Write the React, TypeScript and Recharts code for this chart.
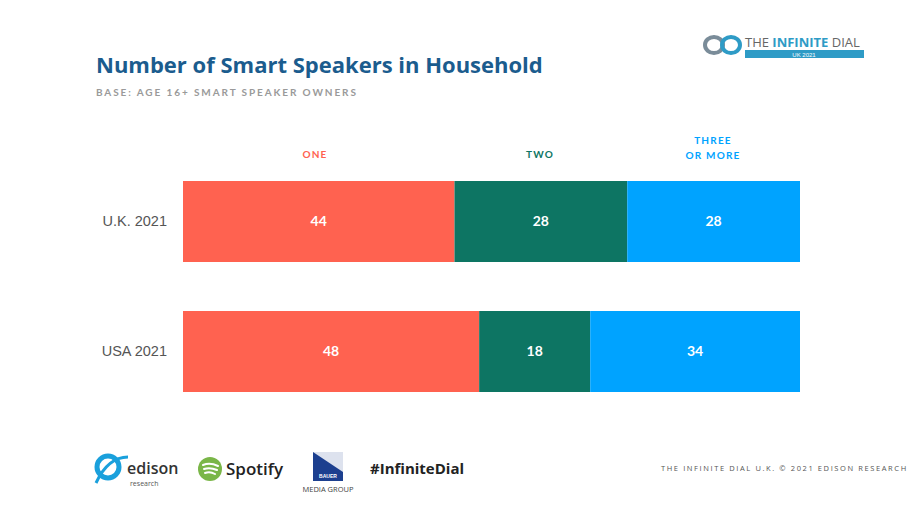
import React from 'react';
import { BarChart, Bar, XAxis, YAxis, LabelList } from 'recharts';

const categories = ['U.K. 2021', 'USA 2021'];
const oneValues = [44, 48];
const twoValues = [28, 18];
const threeValues = [28, 34];
const seriesLabels = ['ONE', 'TWO', 'THREE\nOR MORE'];

const data = categories.map((c, i) => ({
  name: c,
  one: oneValues[i],
  two: twoValues[i],
  three: threeValues[i],
}));

const COLORS = ['#FF6250', '#0D7563', '#00A3FF'];

const FONT = 'Lato, "Open Sans", Roboto, sans-serif';

export default function App() {
  return (
    <div style={{ position: 'absolute', left: 0, top: 0, width: 920, height: 518, background: '#fff', overflow: 'hidden', fontFamily: FONT }}>
      <div style={{ position: 'absolute', left: 96, top: 49, fontSize: 22, fontWeight: 700, color: '#1B5C8E', fontFamily: '"Open Sans", sans-serif', letterSpacing: 0 }}>
        Number of Smart Speakers in Household
      </div>
      <div style={{ position: 'absolute', left: 96, top: 86, fontSize: 10, fontWeight: 700, color: '#9A9A9A', letterSpacing: 1.9 }}>
        BASE: AGE 16+ SMART SPEAKER OWNERS
      </div>

      {/* top right logo */}
      <svg style={{ position: 'absolute', left: 700, top: 30 }} width={170} height={32}>
        <g fill="none" strokeWidth={4}>
          <ellipse cx={14} cy={15} rx={9} ry={8} stroke="#7A8C99" />
          <ellipse cx={31} cy={15} rx={9} ry={8} stroke="#2E9BC6" />
        </g>
        <text x={45} y={17} fontSize={13} fill="#666" fontFamily='"Open Sans", sans-serif'>THE <tspan fontWeight={700} fill="#2E9BC6">INFINITE</tspan> DIAL</text>
        <rect x={45} y={20} width={119} height={8} fill="#2E9BC6" />
        <text x={104} y={27} fontSize={6} fill="#fff" textAnchor="middle" fontFamily="sans-serif">UK 2021</text>
      </svg>

      {/* column headers */}
      <div style={{ position: 'absolute', left: 265, width: 100, top: 148, textAlign: 'center', fontSize: 10, fontWeight: 700, color: COLORS[0], letterSpacing: 1.2 }}>{seriesLabels[0]}</div>
      <div style={{ position: 'absolute', left: 490, width: 100, top: 148, textAlign: 'center', fontSize: 10, fontWeight: 700, color: COLORS[1], letterSpacing: 1.2 }}>{seriesLabels[1]}</div>
      <div style={{ position: 'absolute', left: 663, width: 100, top: 133, textAlign: 'center', fontSize: 10, fontWeight: 700, color: COLORS[2], letterSpacing: 1.2, lineHeight: '15px', whiteSpace: 'pre' }}>{seriesLabels[2]}</div>

      <div style={{ position: 'absolute', left: 0, top: 0 }}>
        <BarChart
          width={920}
          height={518}
          data={data}
          layout="vertical"
          margin={{ top: 156, right: 120, bottom: 102, left: 13 }}
          barSize={81}
        >
          <XAxis type="number" domain={[0, 100]} hide />
          <YAxis
            type="category"
            dataKey="name"
            width={170}
            axisLine={false}
            tickLine={false}
            tickMargin={10}
            tick={{ fill: '#555', fontSize: 14.5, fontFamily: '"Liberation Sans", Arial, sans-serif' }}
          />
          <Bar dataKey="one" stackId="a" fill={COLORS[0]} isAnimationActive={false}>
            <LabelList dataKey="one" position="center" fill="#fff" fontSize={14} fontWeight={700} fontFamily={FONT} />
          </Bar>
          <Bar dataKey="two" stackId="a" fill={COLORS[1]} isAnimationActive={false}>
            <LabelList dataKey="two" position="center" fill="#fff" fontSize={14} fontWeight={700} fontFamily={FONT} />
          </Bar>
          <Bar dataKey="three" stackId="a" fill={COLORS[2]} isAnimationActive={false}>
            <LabelList dataKey="three" position="center" fill="#fff" fontSize={14} fontWeight={700} fontFamily={FONT} />
          </Bar>
        </BarChart>
      </div>

      {/* footer logos */}
      <svg style={{ position: 'absolute', left: 90, top: 445 }} width={400} height={55}>
        {/* edison */}
        <circle cx={18} cy={22} r={11} fill="none" stroke="#1AA0DC" strokeWidth={5} />
        <path d="M6 38 Q 18 12 38 12" fill="none" stroke="#1AA0DC" strokeWidth={3} />
        <text x={37} y={29} fontSize={16} fill="#333" fontFamily='"Open Sans", sans-serif' fontWeight={600}>edison</text>
        <text x={40} y={41} fontSize={7} fill="#555" fontFamily='"Open Sans", sans-serif'>research</text>
        {/* spotify */}
        <circle cx={120} cy={24} r={12} fill="#7AB648" />
        <path d="M113 20 Q120 17 128 21 M114 24 Q120 22 127 25 M115 28 Q120 26 125 29" stroke="#fff" strokeWidth={2} fill="none" strokeLinecap="round" />
        <text x={136} y={30} fontSize={17} fill="#222" fontFamily='"Open Sans", sans-serif' fontWeight={600}>Spotify</text>
        {/* bauer */}
        <rect x={223} y={7} width={30} height={29} fill="#1C3F8F" />
        <path d="M223 7 L253 7 L253 27 Z" fill="#fff" opacity={0.85} />
        <text x={238} y={33} fontSize={5} fill="#fff" textAnchor="middle" fontWeight={700} fontFamily="sans-serif">BAUER</text>
        <text x={238} y={47} fontSize={7.5} fill="#444" textAnchor="middle" fontFamily='"Open Sans", sans-serif'>MEDIA GROUP</text>
        {/* hashtag */}
        <text x={280} y={29} fontSize={15} fill="#222" fontWeight={700} fontFamily='"Open Sans", sans-serif'>#InfiniteDial</text>
      </svg>

      <div style={{ position: 'absolute', left: 661, top: 463, fontSize: 7.5, color: '#555', letterSpacing: 1.6, fontFamily: '"Open Sans", sans-serif', whiteSpace: 'nowrap' }}>
        THE INFINITE DIAL U.K.  © 2021 EDISON RESEARCH
      </div>
    </div>
  );
}
